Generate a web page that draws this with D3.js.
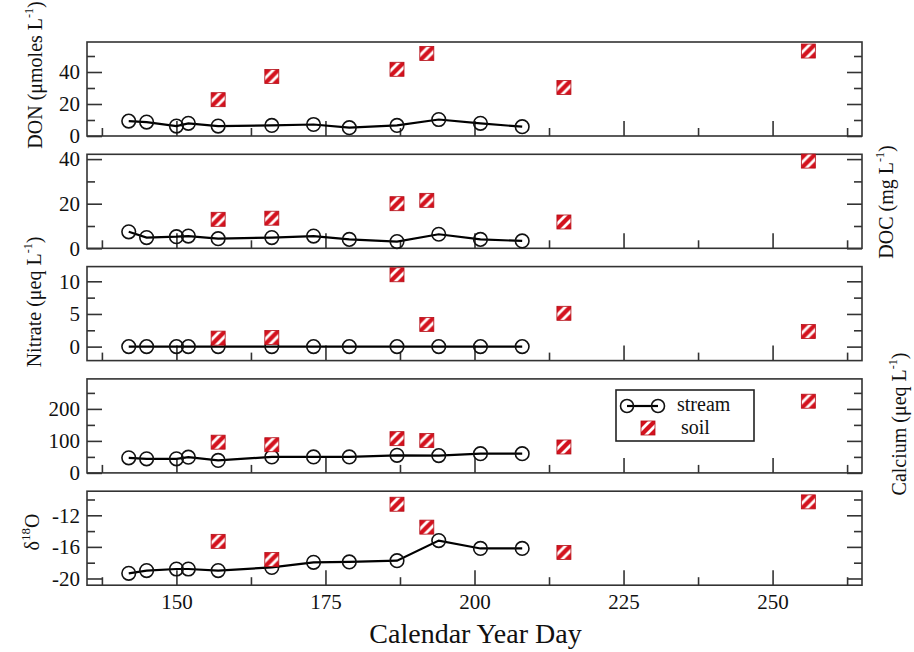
<!DOCTYPE html>
<html>
<head>
<meta charset="utf-8">
<script src="https://cdn.jsdelivr.net/npm/d3@7"></script>
<style>
  body { margin: 0; background: #fff; }
</style>
</head>
<body>
<div id="chart"></div>
<script>
// sampling days
var streamDays = [142, 145, 150, 152, 157, 166, 173, 179, 187, 194, 201, 208];
var soilDays = [157, 166, 187, 192, 215, 256];

// values
var donStream = [9.3, 8.7, 6.2, 7.9, 6.2, 6.6, 7.2, 5.2, 6.6, 10.3, 7.9, 5.8];
var donSoil = [22.7, 37.2, 41.7, 51.6, 30.3, 53.1];
var docStream = [7.4, 4.8, 5.2, 5.5, 4.3, 4.8, 5.5, 4.0, 3.0, 6.3, 4.0, 3.3];
var docSoil = [13.0, 13.5, 20.0, 21.5, 11.8, 39.1];
var nitrateStream = [0, 0, 0, 0, 0, 0, 0, 0, 0, 0, 0, 0];
var nitrateSoil = [1.3, 1.4, 11.0, 3.4, 5.1, 2.3];
var calciumStream = [47, 44, 44, 49, 39, 50, 50, 50, 55, 54, 60, 60];
var calciumSoil = [96, 88, 107, 101, 81, 224];
var d18oStream = [-19.35, -19.0, -18.8, -18.8, -19.0, -18.6, -17.95, -17.9, -17.75, -15.2, -16.2, -16.2];
var d18oSoil = [-15.3, -17.6, -10.6, -13.5, -16.7, -10.3];

// tick labels
var xTicks = [150, 175, 200, 225, 250];
var xMinor = [137.5, 162.5, 187.5, 212.5, 237.5, 262.5];
var donTicks = [0, 20, 40], donMinor = [10, 30, 50];
var docTicks = [0, 20, 40], docMinor = [10, 30];
var nitrateTicks = [0, 5, 10], nitrateMinor = [2.5, 7.5];
var calciumTicks = [0, 100, 200], calciumMinor = [50, 150, 250];
var d18oTicks = [-20, -16, -12], d18oMinor = [-18, -14, -10];

var FONT = "'Liberation Serif', 'Times New Roman', 'DejaVu Serif', serif";
var width = 914, height = 652;
var left = 87, right = 862, top0 = 42, panelH = 94, pitch = 112.3;

var panels = [
  { stream: donStream, soil: donSoil, domain: [0, 58.75], ticks: donTicks, minor: donMinor,
    label: ["DON (\u03bcmoles L", "-1", ")"], lx: 42, ly: 75 },
  { stream: docStream, soil: docSoil, domain: [0, 42.15], ticks: docTicks, minor: docMinor,
    label: ["DOC (mg L", "-1", ")"], lx: 893, ly: 202 },
  { stream: nitrateStream, soil: nitrateSoil, domain: [-2.14, 12.25], ticks: nitrateTicks, minor: nitrateMinor,
    label: ["Nitrate (\u03bceq L", "-1", ")"], lx: 41, ly: 302 },
  { stream: calciumStream, soil: calciumSoil, domain: [0, 293.75], ticks: calciumTicks, minor: calciumMinor,
    label: ["Calcium (\u03bceq L", "-1", ")"], lx: 906, ly: 424 },
  { stream: d18oStream, soil: d18oSoil, domain: [-20.85, -8.95], ticks: d18oTicks, minor: d18oMinor,
    label: null, lx: 39, ly: 532 }
];

var svg = d3.select("#chart").append("svg")
    .attr("width", width)
    .attr("height", height)
    .style("font-family", FONT);

// hatched red square marker
var defs = svg.append("defs");
var pat = defs.append("pattern")
    .attr("id", "hatch")
    .attr("patternUnits", "objectBoundingBox")
    .attr("patternContentUnits", "objectBoundingBox")
    .attr("width", 1).attr("height", 1);
pat.append("rect").attr("width", 1).attr("height", 1).attr("fill", "#d4121e");
pat.append("polygon").attr("points", "0.5,0 0.78,0 0,0.78 0,0.5").attr("fill", "#fff");
pat.append("polygon").attr("points", "1,0.22 1,0.5 0.5,1 0.22,1").attr("fill", "#fff");

var x = d3.scaleLinear().domain([135, 265]).range([left, right]);

var line = d3.line()
    .x(function (d) { return x(d[0]); })
    .y(function (d) { return d[1]; });

// plain hyphen minus, like the original
var fmt = function (d) { return String(d); };

panels.forEach(function (p, i) {
  var t = top0 + i * pitch, b = t + panelH;
  var y = d3.scaleLinear().domain(p.domain).range([b, t]);
  var g = svg.append("g");

  // ticks, all pointing inward
  g.append("g").attr("transform", "translate(" + left + ",0)")
    .call(d3.axisLeft(y).tickValues(p.ticks).tickSize(-15).tickPadding(7).tickFormat(fmt))
    .call(styleAxis);
  g.append("g").attr("transform", "translate(" + left + ",0)")
    .call(d3.axisLeft(y).tickValues(p.minor).tickSize(-8).tickFormat(""))
    .call(styleAxis);
  g.append("g").attr("transform", "translate(" + right + ",0)")
    .call(d3.axisRight(y).tickValues(p.ticks).tickSize(-15).tickFormat(""))
    .call(styleAxis);
  g.append("g").attr("transform", "translate(" + right + ",0)")
    .call(d3.axisRight(y).tickValues(p.minor).tickSize(-8).tickFormat(""))
    .call(styleAxis);
  g.append("g").attr("transform", "translate(0," + b + ")")
    .call(d3.axisBottom(x).tickValues(xTicks).tickSize(-15).tickPadding(9)
      .tickFormat(i === panels.length - 1 ? fmt : ""))
    .call(styleAxis);
  g.append("g").attr("transform", "translate(0," + b + ")")
    .call(d3.axisBottom(x).tickValues(xMinor).tickSize(-8).tickFormat(""))
    .call(styleAxis);

  g.append("rect")
    .attr("x", left).attr("y", t)
    .attr("width", right - left).attr("height", panelH)
    .attr("fill", "none").attr("stroke", "#333").attr("stroke-width", 1.6);

  // stream line + circles
  var pts = streamDays.map(function (d, k) { return [d, y(p.stream[k])]; });
  g.append("path").datum(pts)
    .attr("d", line)
    .attr("fill", "none").attr("stroke", "#000").attr("stroke-width", 2.2);
  g.selectAll(".stream").data(pts).enter().append("circle")
    .attr("cx", function (d) { return x(d[0]); })
    .attr("cy", function (d) { return d[1]; })
    .attr("r", 6.8)
    .attr("fill", "none").attr("stroke", "#111").attr("stroke-width", 1.6);

  // soil squares
  g.selectAll(".soil").data(soilDays).enter().append("rect")
    .attr("x", function (d) { return x(d) - 7; })
    .attr("y", function (d, k) { return y(p.soil[k]) - 7; })
    .attr("width", 14).attr("height", 14)
    .attr("fill", "url(#hatch)")
    .attr("stroke", "#b30f18").attr("stroke-width", 0.8);

  // axis title
  var lab = svg.append("text")
    .attr("transform", "translate(" + p.lx + "," + p.ly + ") rotate(-90)")
    .attr("text-anchor", "middle")
    .style("font-family", FONT)
    .style("font-size", "20px")
    .attr("fill", "#111");
  if (p.label) {
    lab.append("tspan").text(p.label[0]);
    lab.append("tspan").attr("dy", -9).style("font-size", "12px").text(p.label[1]);
    lab.append("tspan").attr("dy", 9).text(p.label[2]);
  } else {
    lab.append("tspan").text("\u03b4");
    lab.append("tspan").attr("dy", -9).style("font-size", "13px").text("18");
    lab.append("tspan").attr("dy", 9).text("O");
  }
});

function styleAxis(sel) {
  sel.attr("font-family", null).attr("font-size", null);
  sel.select(".domain").remove();
  sel.selectAll("line").attr("stroke", "#333").attr("stroke-width", 1.6);
  sel.selectAll("text")
    .attr("font-family", FONT)
    .style("font-family", FONT)
    .style("font-size", "21px")
    .attr("fill", "#111");
}

svg.append("text")
  .attr("x", (left + right) / 2 + 1).attr("y", 643)
  .attr("text-anchor", "middle")
  .style("font-family", FONT)
  .style("font-size", "28px")
  .attr("fill", "#111")
  .text("Calendar Year Day");

// legend
var leg = svg.append("g");
leg.append("rect")
  .attr("x", 616).attr("y", 390).attr("width", 138).attr("height", 51)
  .attr("fill", "#fff").attr("stroke", "#222").attr("stroke-width", 1.6);
leg.append("line")
  .attr("x1", 627).attr("x2", 658).attr("y1", 406).attr("y2", 406)
  .attr("stroke", "#000").attr("stroke-width", 2.2);
leg.selectAll(".lc").data([627, 658]).enter().append("circle")
  .attr("cx", function (d) { return d; }).attr("cy", 406).attr("r", 6.5)
  .attr("fill", "none").attr("stroke", "#111").attr("stroke-width", 1.6);
leg.append("text").attr("x", 677).attr("y", 411)
  .style("font-family", FONT).style("font-size", "20px").attr("fill", "#111").text("stream");
leg.append("rect")
  .attr("x", 641).attr("y", 421).attr("width", 14).attr("height", 14)
  .attr("fill", "url(#hatch)").attr("stroke", "#b30f18").attr("stroke-width", 0.8);
leg.append("text").attr("x", 681).attr("y", 434)
  .style("font-family", FONT).style("font-size", "20px").attr("fill", "#111").text("soil");
</script>
</body>
</html>
